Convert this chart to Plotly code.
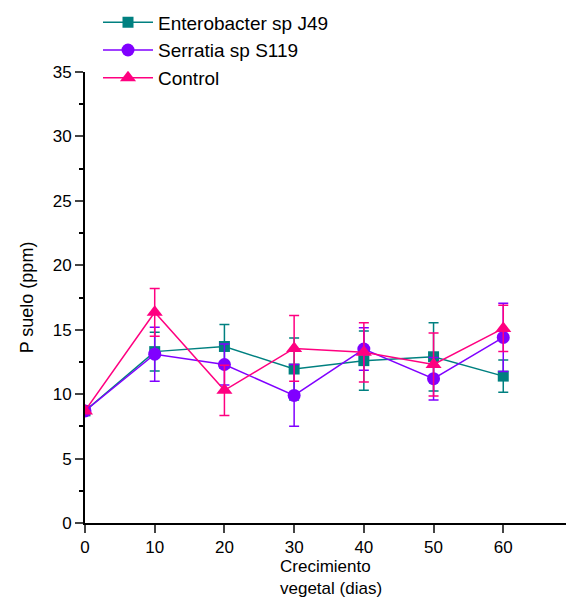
import plotly.graph_objects as go

dias = [0, 10, 20, 30, 40, 50, 60]

entero = [8.7, 13.3, 13.7, 11.95, 12.6, 12.9, 11.4]
entero_err = [0.0, 1.5, 1.7, 2.4, 2.3, 2.65, 1.25]

serratia = [8.7, 13.1, 12.3, 9.9, 13.5, 11.2, 14.4]
serratia_err = [0.0, 2.1, 1.6, 2.4, 1.65, 1.65, 2.65]

control = [8.7, 16.35, 10.3, 13.55, 13.25, 12.3, 15.1]
control_err = [0.0, 1.85, 1.95, 2.55, 2.3, 2.45, 1.8]

names = ["Enterobacter sp J49", "Serratia sp S119", "Control"]
colors = ["#008080", "#8000FF", "#FF0080"]
symbols = ["square", "circle", "triangle-up"]
sizes = [11, 13, 14]

fig = go.Figure()
for name, ys, errs, c, s, sz in zip(names, [entero, serratia, control],
                                     [entero_err, serratia_err, control_err],
                                     colors, symbols, sizes):
    fig.add_trace(go.Scatter(
        x=dias, y=ys, name=name, mode="lines+markers",
        line=dict(color=c, width=1.5),
        marker=dict(symbol=s, size=sz, color=c),
        error_y=dict(type="data", array=errs, visible=True, color=c,
                     thickness=1.5, width=5),
    ))

font = "Liberation Sans, Arial, sans-serif"
fig.update_layout(
    width=566, height=600,
    margin=dict(l=85, r=0, t=72, b=77, autoexpand=False),
    plot_bgcolor="white", paper_bgcolor="white",
    font=dict(family=font, size=17, color="black"),
    showlegend=True,
    legend=dict(x=(98 - 85) / 481, y=1.152, xanchor="left", yanchor="top",
                bgcolor="rgba(0,0,0,0)", font=dict(size=19),
                itemwidth=50, tracegroupgap=0),
    xaxis=dict(range=[0, 69], tickvals=dias, ticks="outside", ticklen=8,
               tickwidth=2, showline=True, linewidth=2, linecolor="black",
               showgrid=False, zeroline=False, tickfont=dict(size=17),
               automargin=False),
    yaxis=dict(range=[0, 35], dtick=5, ticks="outside", ticklen=8,
               tickwidth=2, showline=True, linewidth=2, linecolor="black",
               showgrid=False, zeroline=False, tickfont=dict(size=17),
               automargin=False,
               minor=dict(dtick=2.5, ticks="outside", ticklen=4, tickwidth=2,
                          tickcolor="black"),
               title=dict(text="P suelo (ppm)", font=dict(size=18), standoff=14)),
    annotations=[dict(text="Crecimiento<br>vegetal (dias)", xref="paper", yref="paper",
                      x=(278 - 85) / 481, y=-0.071, xanchor="left", yanchor="top",
                      align="left", showarrow=False, font=dict(size=17))],
)

fig.write_html("out.html", config={"displayModeBar": False},
               post_script="document.body.style.margin='0';document.body.style.overflow='hidden';")
